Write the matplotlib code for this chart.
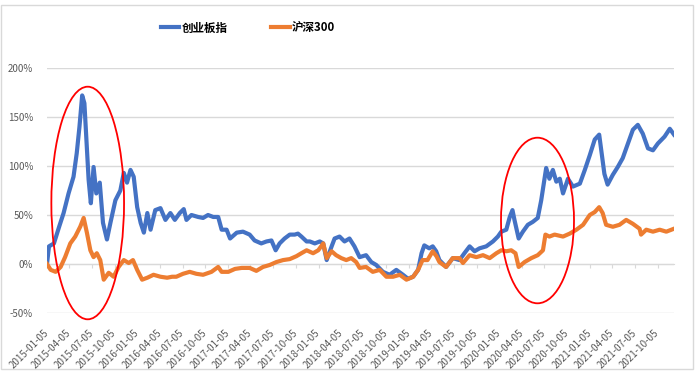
import numpy as np
import pandas as pd
import matplotlib
matplotlib.use("Agg")
import matplotlib.pyplot as plt
import matplotlib.dates as mdates
from matplotlib.patches import Ellipse, Rectangle
from matplotlib.ticker import PercentFormatter

plt.rcParams['font.family'] = ['Noto Sans CJK SC', 'DejaVu Sans']
plt.rcParams['axes.unicode_minus'] = False

# 创业板指, cumulative return in %
cyb_dates = [
    "2015-01-05", "2015-01-13", "2015-02-02", "2015-02-23", "2015-03-13", "2015-04-02",
    "2015-04-22", "2015-05-05", "2015-05-16", "2015-05-27", "2015-06-05", "2015-06-13",
    "2015-06-22", "2015-07-01", "2015-07-12", "2015-07-23", "2015-08-06", "2015-08-19",
    "2015-09-04", "2015-09-18", "2015-10-08", "2015-10-28", "2015-11-11", "2015-11-24",
    "2015-12-08", "2015-12-21", "2016-01-04", "2016-01-18", "2016-01-31", "2016-02-14",
    "2016-02-27", "2016-03-17", "2016-04-07", "2016-04-27", "2016-05-17", "2016-06-04",
    "2016-06-24", "2016-07-10", "2016-07-21", "2016-08-10", "2016-09-06", "2016-09-26",
    "2016-10-16", "2016-11-06", "2016-11-26", "2016-12-10", "2016-12-30", "2017-01-13",
    "2017-02-09", "2017-03-06", "2017-04-02", "2017-04-22", "2017-05-19", "2017-06-09",
    "2017-06-29", "2017-07-16", "2017-08-01", "2017-08-21", "2017-09-11", "2017-10-01",
    "2017-10-14", "2017-10-28", "2017-11-18", "2017-12-01", "2017-12-21", "2018-01-10",
    "2018-01-24", "2018-02-07", "2018-02-27", "2018-03-11", "2018-03-31", "2018-04-20",
    "2018-05-10", "2018-05-30", "2018-06-20", "2018-07-16", "2018-08-06", "2018-08-26",
    "2018-09-22", "2018-10-19", "2018-11-15", "2018-12-12", "2019-01-01", "2019-01-22",
    "2019-02-11", "2019-02-25", "2019-03-08", "2019-03-28", "2019-04-11", "2019-04-25",
    "2019-05-08", "2019-06-04", "2019-07-01", "2019-07-28", "2019-08-17", "2019-09-07",
    "2019-09-27", "2019-10-17", "2019-11-13", "2019-12-10", "2019-12-30", "2020-01-13",
    "2020-02-02", "2020-02-16", "2020-02-27", "2020-03-06", "2020-03-23", "2020-04-09",
    "2020-04-29", "2020-05-19", "2020-06-08", "2020-06-22", "2020-07-05", "2020-07-12",
    "2020-07-25", "2020-08-08", "2020-08-22", "2020-09-05", "2020-09-18", "2020-10-08",
    "2020-10-28", "2020-11-25", "2020-12-15", "2021-01-04", "2021-01-24", "2021-02-11",
    "2021-02-21", "2021-03-04", "2021-03-17", "2021-04-07", "2021-04-27", "2021-05-17",
    "2021-06-07", "2021-06-27", "2021-07-17", "2021-08-06", "2021-08-27", "2021-09-16",
    "2021-10-06", "2021-11-02", "2021-11-23", "2021-12-10",
]
cyb_vals = [
    0, 18, 21, 38, 52, 72,
    89, 113, 140, 172, 164, 127,
    86, 62, 99, 72, 83, 42,
    25, 42, 65, 75, 93, 83,
    96, 89, 58, 42, 32, 52,
    35, 55, 57, 45, 52, 45,
    52, 56, 45, 50, 48, 47,
    50, 48, 48, 35, 35, 26,
    32, 33, 30, 24, 21, 23,
    24, 14, 21, 26, 30, 30,
    31, 28, 23, 23, 21, 23,
    21, 4, 18, 26, 28, 23,
    26, 18, 7, 9, 2, -1,
    -8, -11, -6, -11, -15, -13,
    -6, 11, 19, 16, 18, 13,
    4, -3, 6, 4, 11, 18,
    13, 16, 18, 23, 28, 33,
    35, 48, 55, 45, 26, 33,
    40, 43, 47, 65, 86, 98,
    87, 96, 84, 87, 72, 87,
    79, 82, 96, 111, 127, 132,
    113, 92, 81, 91, 99, 108,
    123, 137, 142, 133, 118, 116,
    123, 130, 138, 132,
]

# 沪深300, cumulative return in %
hs_dates = [
    "2015-01-05", "2015-01-20", "2015-02-09", "2015-03-01", "2015-03-19", "2015-04-09",
    "2015-04-29", "2015-05-19", "2015-06-02", "2015-06-15", "2015-06-29", "2015-07-12",
    "2015-07-25", "2015-08-08", "2015-08-22", "2015-09-11", "2015-10-01", "2015-10-21",
    "2015-11-11", "2015-12-01", "2015-12-18", "2016-01-04", "2016-01-24", "2016-02-14",
    "2016-03-10", "2016-04-07", "2016-05-04", "2016-05-24", "2016-06-10", "2016-07-07",
    "2016-08-03", "2016-08-30", "2016-09-26", "2016-10-30", "2016-11-26", "2016-12-10",
    "2017-01-06", "2017-02-02", "2017-03-01", "2017-04-02", "2017-04-29", "2017-05-26",
    "2017-06-22", "2017-07-19", "2017-08-15", "2017-09-11", "2017-10-08", "2017-10-28",
    "2017-11-18", "2017-12-14", "2018-01-04", "2018-01-24", "2018-02-07", "2018-02-27",
    "2018-03-17", "2018-04-07", "2018-04-27", "2018-05-17", "2018-06-06", "2018-06-20",
    "2018-07-16", "2018-08-12", "2018-09-09", "2018-10-06", "2018-11-02", "2018-11-29",
    "2018-12-26", "2019-01-22", "2019-02-11", "2019-03-01", "2019-03-21", "2019-04-11",
    "2019-04-26", "2019-05-08", "2019-06-04", "2019-07-01", "2019-07-28", "2019-08-11",
    "2019-09-07", "2019-10-04", "2019-10-31", "2019-11-27", "2019-12-24", "2020-01-13",
    "2020-02-02", "2020-02-22", "2020-03-10", "2020-03-23", "2020-04-16", "2020-05-13",
    "2020-06-08", "2020-06-29", "2020-07-09", "2020-07-25", "2020-08-15", "2020-09-18",
    "2020-10-15", "2020-11-11", "2020-12-08", "2021-01-04", "2021-01-24", "2021-02-11",
    "2021-02-25", "2021-03-11", "2021-04-07", "2021-05-04", "2021-05-31", "2021-06-27",
    "2021-07-24", "2021-07-30", "2021-08-20", "2021-09-16", "2021-10-13", "2021-11-09",
    "2021-12-10",
]
hs_vals = [
    0, -6, -8, -3, 7, 21,
    28, 38, 47, 32, 14, 7,
    11, 4, -16, -9, -13, -3,
    4, 1, 4, -6, -16, -14,
    -11, -13, -14, -13, -13, -10,
    -8, -10, -11, -8, -3, -8,
    -8, -5, -4, -4, -7, -3,
    -1, 2, 4, 5, 8, 11,
    14, 11, 14, 21, 6, 13,
    9, 6, 4, 6, 2, -4,
    -3, -8, -6, -13, -13, -11,
    -16, -13, -6, 4, 4, 13,
    8, 2, -3, 6, 6, 1,
    9, 7, 9, 6, 11, 14,
    13, 14, 11, -3, 2, 6,
    9, 14, 30, 28, 30, 28,
    31, 35, 40, 50, 53, 58,
    52, 40, 38, 40, 45, 41,
    36, 30, 35, 33, 35, 33,
    36,
]

tick_labels = [
    "2015-01-05", "2015-04-05", "2015-07-05", "2015-10-05",
    "2016-01-05", "2016-04-05", "2016-07-05", "2016-10-05",
    "2017-01-05", "2017-04-05", "2017-07-05", "2017-10-05",
    "2018-01-05", "2018-04-05", "2018-07-05", "2018-10-05",
    "2019-01-05", "2019-04-05", "2019-07-05", "2019-10-05",
    "2020-01-05", "2020-04-05", "2020-07-05", "2020-10-05",
    "2021-01-05", "2021-04-05", "2021-07-05", "2021-10-05",
]

blue = "#4472C4"
orange = "#ED7D31"
grid = "#d9d9d9"
txt = "#595959"

fig = plt.figure(figsize=(7, 3.76), dpi=100)
ax = fig.add_axes([47 / 700, 1 - 313 / 376, 627 / 700, 245 / 376])

ax.plot(pd.to_datetime(cyb_dates), cyb_vals, color=blue, lw=3, label="创业板指",
        solid_joinstyle="round", zorder=3)
ax.plot(pd.to_datetime(hs_dates), hs_vals, color=orange, lw=3, label="沪深300",
        solid_joinstyle="round", zorder=4)

ax.set_ylim(-50, 200)
ax.set_yticks([-50, 0, 50, 100, 150, 200])
ax.yaxis.set_major_formatter(PercentFormatter(100, decimals=0))
ax.set_xlim(pd.Timestamp("2015-01-05"), pd.Timestamp("2021-12-10"))

ticks = pd.to_datetime(tick_labels)
ax.set_xticks(ticks)
ax.set_xticklabels(tick_labels, rotation=45, ha="right", va="center", rotation_mode="anchor")
ax.grid(axis="y", color=grid, lw=1)
ax.set_axisbelow(True)
for s in ax.spines.values():
    s.set_visible(False)
ax.tick_params(axis="y", length=0, pad=10, labelsize=7, labelcolor=txt)
ax.tick_params(axis="x", length=0, pad=13, labelsize=7, labelcolor=txt)

# horizontal axis line at 0% with its tick marks
sec = ax.secondary_xaxis(0.2)
sec.set_xticks(ticks)
sec.tick_params(length=3, color=grid, labelbottom=False)
sec.spines["bottom"].set_color(grid)

fig.legend(loc="center", bbox_to_anchor=(248 / 700, 1 - 28 / 376), ncol=2, frameon=False,
           handlelength=1.6, handletextpad=0.2, columnspacing=3.8,
           prop={"size": 8.3, "weight": "bold"})

# chart border and the red ellipses
fig.add_artist(Rectangle((1 / 700, 1 - 369 / 376), 692 / 700, 364 / 376,
                         transform=fig.transFigure, fill=False, ec=grid, lw=1))
for cx, cy, w, h in [(87.7, 203, 72.7, 232.6), (537.5, 220.5, 73, 165.6)]:
    fig.add_artist(Ellipse((cx / 700, 1 - cy / 376), w / 700, h / 376,
                           transform=fig.transFigure, fill=False, ec="#ff0000",
                           lw=1.3, zorder=10))

fig.savefig("out.png", dpi=100)
